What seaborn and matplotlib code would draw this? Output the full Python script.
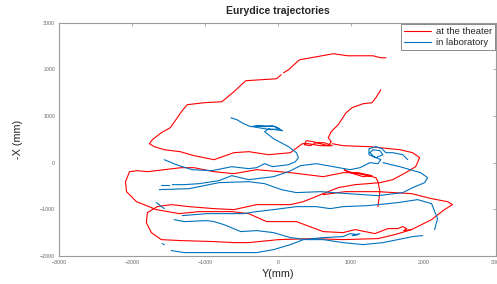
import pandas as pd
import seaborn as sns
import matplotlib
matplotlib.use("Agg")
import matplotlib.pyplot as plt

# Trajectories: (Y mm, -X mm)
red_1a = [(1414, 1563), (1346, 1392), (1292, 1285), (1169, 1263), (1019, 1178), (937, 1071),
          (828, 814), (732, 664), (692, 535), (732, 450), (692, 364), (582, 407), (487, 450),
          (391, 471), (364, 385), (446, 364), (528, 428), (637, 428), (746, 364), (582, 364),
          (419, 407), (337, 407), (282, 343), (173, 214), (-127, 171), (-400, 236), (-604, 214),
          (-877, 64), (-1150, 150), (-1341, 236), (-1559, 278), (-1695, 343), (-1764, 407),
          (-1723, 492), (-1600, 642), (-1477, 749), (-1409, 899), (-1314, 1113), (-1245, 1242),
          (-1013, 1285), (-768, 1306), (-604, 1520), (-441, 1756), (-236, 1777), (-18, 1798),
          (46, 1884)]
red_1b = [(78, 1927), (146, 1991), (296, 2205), (528, 2269), (760, 2334), (964, 2291),
          (1128, 2291), (1305, 2291), (1414, 2248), (1483, 2248)]
red_2 = [(746, 407), (896, 364), (1264, 343), (1674, 278), (1851, 214), (1946, 107), (1892, -86),
         (1755, -214), (1578, -364), (1401, -428), (1237, -450), (1060, -471), (828, -535),
         (623, -664), (351, -835), (173, -899), (-291, -899), (-604, -1006), (-877, -985),
         (-1218, -942), (-1464, -899), (-1655, -942), (-1791, -1071), (-1805, -1285),
         (-1736, -1499), (-1600, -1649), (-1327, -1670), (-877, -1691), (-604, -1713),
         (-400, -1713), (10, -1649), (473, -1627), (896, -1649), (1374, -1627), (1605, -1542),
         (1837, -1434), (2110, -1220), (2287, -1006), (2397, -899), (2328, -835), (2110, -771),
         (1837, -664), (1374, -621), (923, -621), (623, -685)]
red_3 = [(1374, -942), (1401, -621), (1374, -407), (1346, -321), (1237, -278), (1101, -236),
         (964, -193), (910, -150), (992, -214), (1169, -300), (1292, -278), (1101, -214),
         (896, -214), (623, -300), (173, -214), (-291, -150), (-604, -236), (-877, -193),
         (-1150, -107), (-1327, -107), (-1559, -150), (-1791, -193), (-1927, -171), (-2036, -193),
         (-2091, -407), (-2077, -621), (-1941, -835), (-1668, -1006), (-1354, -1092),
         (-1082, -1049), (-632, -1049), (-400, -1092), (-154, -1263), (255, -1263), (623, -1477),
         (896, -1499), (1060, -1434), (1333, -1520), (1510, -1413), (1646, -1413), (1715, -1370),
         (1769, -1413), (1728, -1456), (1837, -1434)]

blue_1 = [(-645, 963), (-563, 921), (-468, 835), (-372, 771), (-291, 792), (-181, 771), (-72, 792),
          (23, 728), (-100, 707), (-263, 749), (-345, 771), (-209, 792), (-31, 771), (64, 685),
          (-127, 728), (-181, 664), (-59, 514), (146, 343), (255, 214), (282, 107), (241, 21),
          (146, -43), (-72, -86), (-181, -21), (-291, -107), (-400, -128), (-632, -86),
          (-904, -171), (-1177, -150), (-1395, -43), (-1559, 64)]
blue_2 = [(1783, 64), (1715, 171), (1578, 214), (1483, 214), (1428, 300), (1346, 343), (1251, 300),
          (1251, 171), (1346, 107), (1442, 171), (1401, 257), (1305, 278), (1264, 214), (1319, 128),
          (1414, 64), (1374, -21), (1264, 0), (1128, -107), (992, -150), (760, -86), (528, -21),
          (310, -64), (146, -193), (-59, -300), (-400, -364), (-632, -278), (-809, -385),
          (-1082, -450), (-1286, -471), (-1450, -471)]
blue_3 = [(1442, 0), (1674, -86), (1960, -214), (2056, -321), (2015, -428), (1851, -535),
          (1715, -642), (1374, -707), (964, -664), (582, -621), (255, -642), (50, -578),
          (-181, -450), (-400, -407), (-809, -428), (-1218, -557), (-1627, -578)]
blue_4 = [(2151, -1434), (2192, -1199), (2110, -878), (1919, -792), (1646, -856), (1237, -921),
          (896, -942), (719, -985), (528, -942), (255, -942), (-59, -1006), (-291, -1049),
          (-468, -1092), (-741, -1092), (-973, -1092), (-1314, -1135)]
blue_5 = [(-1423, -1220), (-1286, -1263), (-973, -1242), (-877, -1263), (-741, -1327),
          (-509, -1477), (-291, -1456), (-59, -1499), (173, -1606), (391, -1649), (623, -1649),
          (896, -1713), (1169, -1756), (1442, -1713), (1646, -1649), (1851, -1584), (1987, -1563)]
blue_6 = [(-1464, -1884), (-1286, -1927), (-973, -1927), (-604, -1927), (-291, -1927),
          (-59, -1863), (173, -1756), (351, -1649), (623, -1606), (896, -1584), (992, -1520),
          (1101, -1542), (1019, -1563), (1128, -1520)]
blue_7 = [(-1668, -856), (-1559, -985)]
blue_8 = [(-1587, -1734), (-1559, -1756)]
blue_9 = [(-1600, -471), (-1491, -471)]

groups = ["at the theater", "in laboratory"]
segments = [(groups[0], s) for s in (red_1a, red_1b, red_2, red_3)] + \
           [(groups[1], s) for s in (blue_1, blue_2, blue_3, blue_4, blue_5,
                                     blue_6, blue_7, blue_8, blue_9)]

rows = []
for k, (grp, pts) in enumerate(segments):
    for i, (h, v) in enumerate(pts):
        rows.append({"group": grp, "seg": k, "i": i, "Y": h, "negX": v})
df = pd.DataFrame(rows)

# ── figure ──
sns.set_theme(style="white")
plt.rcParams["font.family"] = ["Liberation Sans", "DejaVu Sans"]

fig = plt.figure(figsize=(4.97, 2.84), dpi=100)
ax = fig.add_axes([0.1193, 0.0986, 0.8795, 0.8215])

sns.lineplot(data=df, x="Y", y="negX", hue="group", hue_order=groups, units="seg",
             estimator=None, sort=False, palette={groups[0]: "#ff0000", groups[1]: "#0072bd"},
             linewidth=0.8, ax=ax)

ax.set_xlim(-3000, 3000)
ax.set_ylim(-2000, 3000)
ax.set_xticks(range(-3000, 3001, 1000))
ax.set_yticks(range(-2000, 3001, 1000))
ax.tick_params(direction="in", top=True, right=True, length=2.5, width=0.5,
               color="#8c8c8c", labelcolor="#666666", labelsize=3.8, pad=3)
for sp in ax.spines.values():
    sp.set_color("#9a9a9a")
    sp.set_linewidth(0.8)

ax.set_xlabel("Y(mm)", fontsize=7.8, labelpad=3)
ax.set_ylabel("-X (mm)", fontsize=7.8, labelpad=12)
ax.set_title("Eurydice trajectories", fontsize=7.6, fontweight="bold", pad=6)

handles, labels = ax.get_legend_handles_labels()
leg = ax.legend(handles, labels, loc="upper right", fontsize=6.8, frameon=True,
                fancybox=False, edgecolor="#555555", borderaxespad=0.15,
                handlelength=2.9, handletextpad=0.5, borderpad=0.3, labelspacing=0.2)
leg.get_frame().set_linewidth(0.6)

fig.savefig("out.png", dpi=100)
